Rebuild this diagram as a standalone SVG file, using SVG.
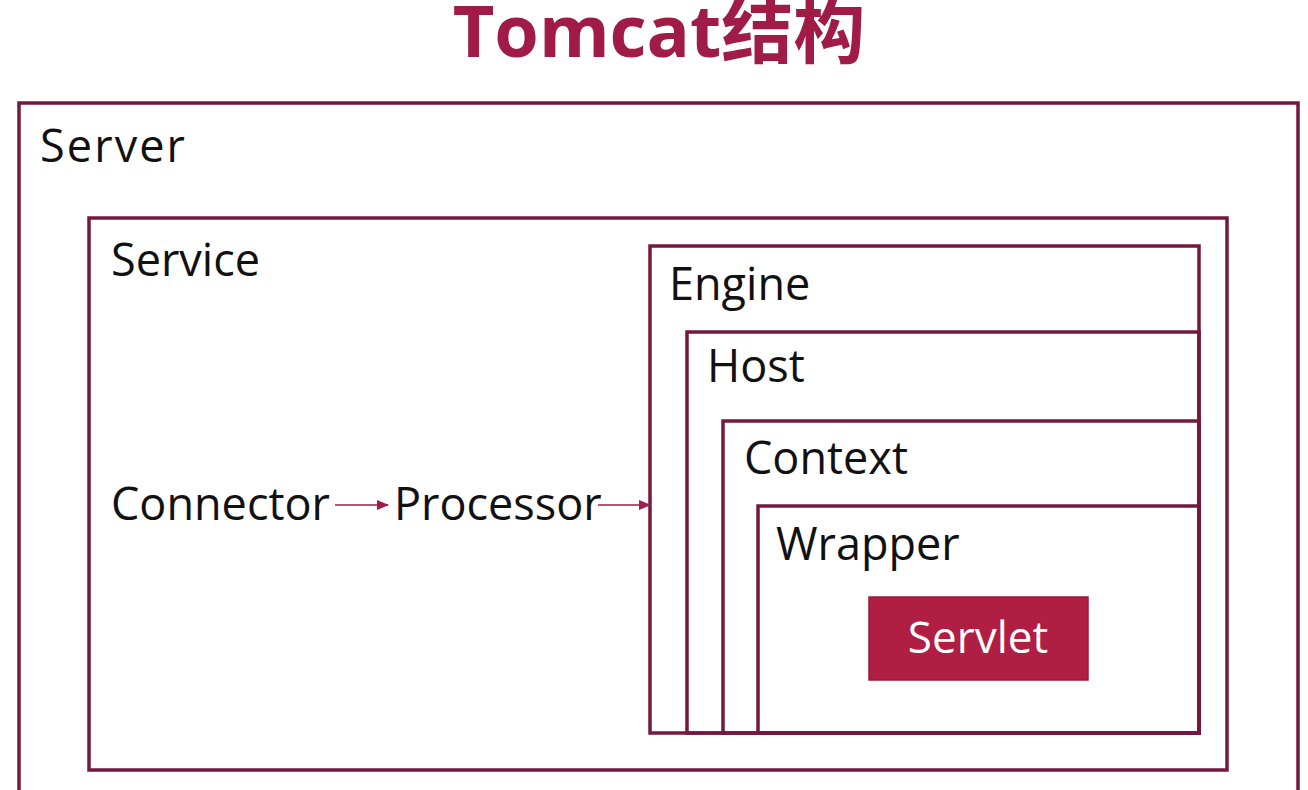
<svg xmlns="http://www.w3.org/2000/svg" width="1308" height="790" viewBox="0 0 1308 790">
<style>
.box{fill:none;stroke:#74183f;stroke-width:3.5}
.lbl{font-family:"Open Sans","Noto Sans",sans-serif;font-size:45px;fill:#111}
.title{font-family:"Open Sans","Noto Sans CJK SC",sans-serif;font-weight:bold;font-size:72px;fill:#a01b45}
.conn{stroke:#9a2047;stroke-width:1.6;fill:none}
</style>
<defs>
<marker id="ah" markerWidth="12" markerHeight="10" refX="11" refY="5" orient="auto" markerUnits="userSpaceOnUse">
<path d="M0,0 L12,5 L0,10 Z" fill="#9a2047"/>
</marker>
</defs>
<rect width="1308" height="790" fill="#fff"/>
<text class="title" x="659" y="57" text-anchor="middle">Tomcat结构</text>
<g id="server">
<rect class="box" x="19" y="103" width="1279" height="720"/>
<text class="lbl" x="40" y="162" textLength="145">Server</text>
</g>
<g id="service">
<rect class="box" x="89" y="218" width="1138" height="552"/>
<text class="lbl" x="111" y="276">Service</text>
</g>
<g id="connector"><text class="lbl" x="111" y="520">Connector</text></g>
<g id="processor"><text class="lbl" x="394" y="520">Processor</text></g>
<g id="engine">
<rect class="box" x="650" y="246" width="549" height="487"/>
<text class="lbl" x="669" y="300">Engine</text>
</g>
<g id="host">
<rect class="box" x="687" y="332" width="512" height="401"/>
<text class="lbl" x="707" y="382">Host</text>
</g>
<g id="context">
<rect class="box" x="723" y="421" width="476" height="312"/>
<text class="lbl" x="744" y="474">Context</text>
</g>
<g id="wrapper">
<rect class="box" x="758" y="506" width="441" height="227"/>
<text class="lbl" x="776" y="560">Wrapper</text>
</g>
<g id="servlet">
<rect x="869" y="597" width="219" height="83" fill="#b01e44" stroke="#9a1a3c" stroke-width="1.5"/>
<text x="978" y="653" text-anchor="middle" style="font-family:'Open Sans','Noto Sans',sans-serif;font-size:44px;fill:#fff">Servlet</text>
</g>
<g id="connectors">
<line class="conn" x1="335" y1="505" x2="388" y2="505" marker-end="url(#ah)"/>
<line class="conn" x1="598" y1="505" x2="650" y2="505" marker-end="url(#ah)"/>
</g>
</svg>
